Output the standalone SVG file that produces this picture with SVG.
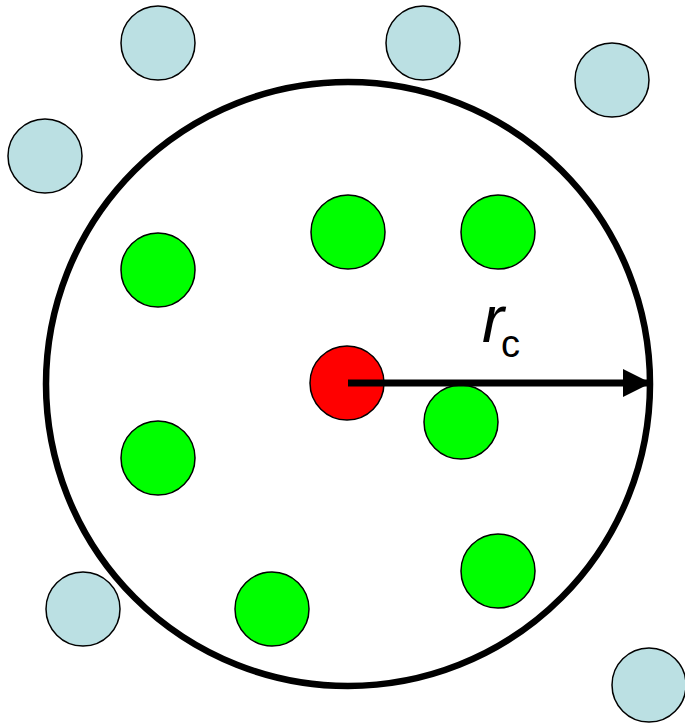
<svg xmlns="http://www.w3.org/2000/svg" width="685" height="726" viewBox="0 0 685 726">
<style>
.out{fill:#BBE0E3;stroke:#000;stroke-width:1.5}
.in{fill:#00FF00;stroke:#000;stroke-width:1.5}
.ctr{fill:#FF0000;stroke:#000;stroke-width:1.5}
.lbl{font-family:"Liberation Sans",Arial,sans-serif;fill:#000}
</style>
<defs>
<marker id="ah" markerWidth="4" markerHeight="4" refX="4" refY="2" orient="auto" markerUnits="strokeWidth">
<path d="M0,0 L4,2 L0,4 Z" fill="#000"/>
</marker>
</defs>
<rect width="685" height="726" fill="#fff"/>
<g id="cutoff"><circle cx="348" cy="384" r="302" fill="none" stroke="#000" stroke-width="6.5"/></g>
<g id="p1"><circle class="out" cx="158" cy="43" r="37"/></g>
<g id="p2"><circle class="out" cx="423" cy="43" r="37"/></g>
<g id="p3"><circle class="out" cx="612" cy="80" r="37"/></g>
<g id="p4"><circle class="out" cx="45" cy="156" r="37"/></g>
<g id="p5"><circle class="out" cx="83" cy="609" r="37"/></g>
<g id="p6"><circle class="out" cx="649" cy="685" r="37"/></g>
<g id="g1"><circle class="in" cx="348" cy="232" r="37"/></g>
<g id="g2"><circle class="in" cx="498" cy="232" r="37"/></g>
<g id="g3"><circle class="in" cx="158" cy="270" r="37"/></g>
<g id="g4"><circle class="in" cx="461" cy="422" r="37"/></g>
<g id="g5"><circle class="in" cx="158" cy="458" r="37"/></g>
<g id="g6"><circle class="in" cx="272" cy="609" r="37"/></g>
<g id="g7"><circle class="in" cx="498" cy="571" r="37"/></g>
<g id="center"><circle class="ctr" cx="347" cy="383" r="37"/></g>
<g id="connectors">
<line x1="348" y1="383" x2="651" y2="383" stroke="#000" stroke-width="7" marker-end="url(#ah)"/>
</g>
<g id="label">
<text class="lbl" x="482" y="342" font-size="66"><tspan font-style="italic">r</tspan><tspan x="501" y="357" font-size="38">c</tspan></text>
</g>
</svg>
